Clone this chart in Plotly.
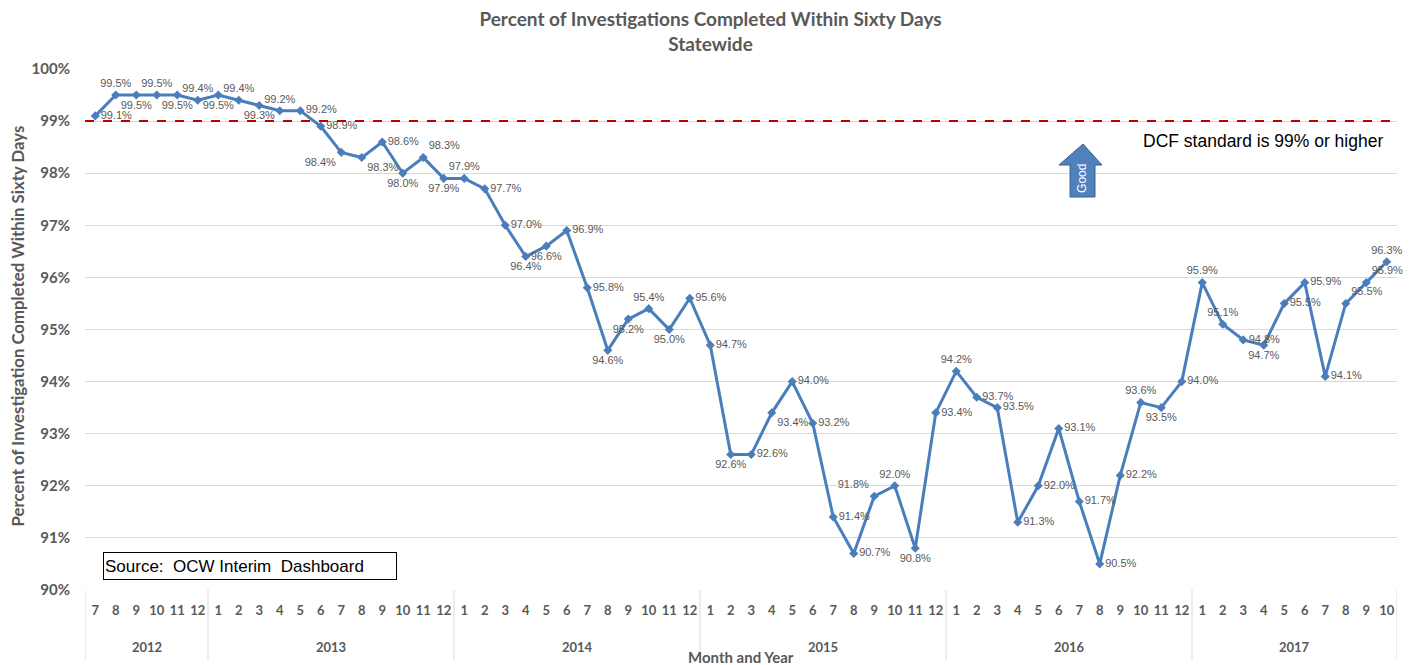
import plotly.graph_objects as go

years = ["2012"] * 6 + ["2013"] * 12 + ["2014"] * 12 + ["2015"] * 12 + ["2016"] * 12 + ["2017"] * 10
months = [str(m) for m in range(7, 13)] + [str(m) for m in range(1, 13)] * 4 + [str(m) for m in range(1, 11)]

values = [
    99.1, 99.5, 99.5, 99.5, 99.5, 99.4,
    99.5, 99.4, 99.3, 99.2, 99.2, 98.9, 98.4, 98.3, 98.6, 98.0, 98.3, 97.9,
    97.9, 97.7, 97.0, 96.4, 96.6, 96.9, 95.8, 94.6, 95.2, 95.4, 95.0, 95.6,
    94.7, 92.6, 92.6, 93.4, 94.0, 93.2, 91.4, 90.7, 91.8, 92.0, 90.8, 93.4,
    94.2, 93.7, 93.5, 91.3, 92.0, 93.1, 91.7, 90.5, 92.2, 93.6, 93.5, 94.0,
    95.9, 95.1, 94.8, 94.7, 95.5, 95.9, 94.1, 95.5, 95.9, 96.3,
]

standard = 99

label_pos = (
    ["middle right", "top center", "bottom center", "top center", "bottom center", "top center"]
    + ["bottom center", "top center", "bottom center", "top center", "middle right", "middle right",
       "bottom left", "bottom right", "middle right", "bottom center", "top right", "bottom center"]
    + ["top center", "middle right", "middle right", "bottom center", "bottom center", "middle right",
       "middle right", "bottom center", "bottom center", "top center", "bottom center", "middle right"]
    + ["middle right", "bottom center", "middle right", "bottom right", "middle right", "middle right",
       "middle right", "middle right", "top left", "top center", "bottom center", "middle right"]
    + ["top center", "middle right", "middle right", "middle right", "middle right", "middle right",
       "middle right", "middle right", "middle right", "top center", "bottom center", "middle right"]
    + ["top center", "top center", "middle right", "bottom center", "middle right", "middle right",
       "middle right", "top right", "top right", "top center"]
)

GRAY = "#595959"
BLUE = "#4A7EBB"
DIV = "#D9D9D9"

idx = list(range(len(values)))

fig = go.Figure()
fig.add_trace(go.Scatter(
    x=idx, y=values,
    mode="lines+markers+text",
    line=dict(color=BLUE, width=3),
    marker=dict(symbol="diamond", size=7, color=BLUE),
    text=[f"{v:.1f}%" for v in values],
    textposition=label_pos,
    textfont=dict(family="Liberation Sans, Arial", size=11, color=GRAY),
    cliponaxis=False,
    showlegend=False,
))

# DCF standard line
fig.add_shape(type="line", xref="paper", x0=0, x1=1, yref="y", y0=standard, y1=standard,
              line=dict(color="#C00000", width=2, dash="dash"))

# year group labels and dividers
groups = []
for i, yv in enumerate(years):
    if not groups or groups[-1][0] != yv:
        groups.append([yv, i, i])
    else:
        groups[-1][2] = i
bounds = [g[1] - 0.5 for g in groups] + [groups[-1][2] + 0.5]
for b in bounds:
    fig.add_shape(type="line", xref="x", yref="paper", x0=b, x1=b, y0=0, y1=-0.135,
                  line=dict(color=DIV, width=1))
for yv, a, b in groups:
    fig.add_annotation(x=(a + b) / 2, y=-0.109, xref="x", yref="paper", text=f"<b>{yv}</b>",
                       showarrow=False, xanchor="center", yanchor="middle",
                       font=dict(family="Lato", size=13, color=GRAY))

# Good arrow
ax = [0.7424, 0.7508, 0.7607, 0.7698, 0.7751]
ay = [0.856, 0.8157, 0.7543]
path = (f"M {ax[2]} {ay[0]} L {ax[4]} {ay[1]} L {ax[3]} {ay[1]} L {ax[3]} {ay[2]} "
        f"L {ax[1]} {ay[2]} L {ax[1]} {ay[1]} L {ax[0]} {ay[1]} Z")
fig.add_shape(type="path", xref="paper", yref="paper", path=path,
              fillcolor="#4F81BD", line=dict(color="#385D8A", width=1))
fig.add_annotation(x=(ax[1] + ax[3]) / 2, y=0.790, xref="paper", yref="paper", text="Good",
                   textangle=-90, showarrow=False, xanchor="center", yanchor="middle",
                   font=dict(family="Liberation Sans, Arial", size=12, color="white"))

fig.add_annotation(x=0.9909, y=0.8618, xref="paper", yref="paper", xanchor="right", yanchor="middle",
                   text="DCF standard is 99% or higher", showarrow=False,
                   font=dict(family="Liberation Sans, Arial", size=17.5, color="black"))

fig.add_annotation(x=0.1258, y=0.046, xref="paper", yref="paper", xanchor="center", yanchor="middle",
                   text="Source:  OCW Interim  Dashboard", showarrow=False, align="left",
                   width=290, height=24, bordercolor="black", borderwidth=1, bgcolor="white",
                   font=dict(family="Liberation Sans, Arial", size=17, color="black"))

fig.add_annotation(x=0.5, y=-0.1286, xref="paper", yref="paper", text="<b>Month and Year</b>",
                   showarrow=False, xanchor="center", yanchor="middle",
                   font=dict(family="Lato", size=15, color=GRAY))

fig.add_annotation(x=-0.0518, y=0.506, xref="paper", yref="paper",
                   text="<b>Percent of Investigation Completed Within Sixty Days</b>",
                   textangle=-90, showarrow=False, xanchor="center", yanchor="middle",
                   font=dict(family="Lato", size=16.8, color=GRAY))

fig.update_layout(
    width=1405, height=657,
    margin=dict(l=77, r=16, t=61, b=75),
    paper_bgcolor="white", plot_bgcolor="white",
    title=dict(text="<b>Percent of Investigations Completed Within Sixty Days<br>Statewide</b>",
               x=0.5, xanchor="center", y=0.9726, yanchor="middle",
               font=dict(family="Lato", size=19, color=GRAY)),
    xaxis=dict(range=[-0.5, len(values) - 0.5], tickvals=idx, ticktext=months, tickangle=0,
               showgrid=False, showline=False, zeroline=False, automargin=False, ticklen=0,
               ticklabelstandoff=11,
               tickfont=dict(family="Lato", size=13, color=GRAY, weight="bold")),
    yaxis=dict(range=[90, 100], dtick=1, ticksuffix="%", showgrid=True, gridcolor=DIV,
               zeroline=False, showline=False, automargin=False, ticklabelstandoff=14,
               tickfont=dict(family="Lato", size=15, color=GRAY, weight="bold")),
)

fig.write_html("out.html")
